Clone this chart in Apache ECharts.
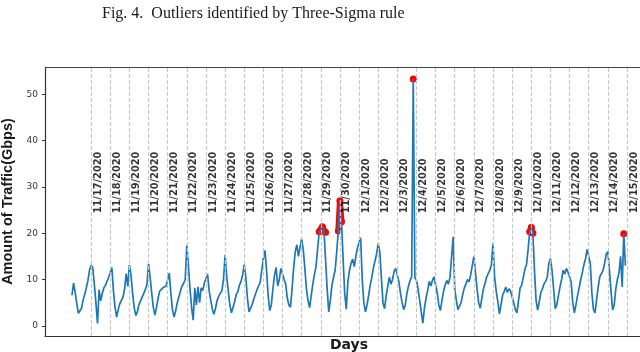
<!DOCTYPE html>
<html>
<head>
<meta charset="utf-8">
<script src="https://cdn.jsdelivr.net/npm/echarts@6/dist/echarts.min.js"></script>
<style>
  html, body { margin: 0; padding: 0; background: #fff; }
  #chart { width: 640px; height: 352px; }
</style>
</head>
<body>
<div id="chart"></div>
<script>
// day labels drawn at day 1..29 (day 0 = 11/16/2020 00:00)
var dates = ['11/17/2020', '11/18/2020', '11/19/2020', '11/20/2020', '11/21/2020', '11/22/2020',
    '11/23/2020', '11/24/2020', '11/25/2020', '11/26/2020', '11/27/2020', '11/28/2020',
    '11/29/2020', '11/30/2020', '12/1/2020', '12/2/2020', '12/3/2020', '12/4/2020',
    '12/5/2020', '12/6/2020', '12/7/2020', '12/8/2020', '12/9/2020', '12/10/2020',
    '12/11/2020', '12/12/2020', '12/13/2020', '12/14/2020', '12/15/2020'];

var stepHours = 2;   // one sample every 2 hours, starting 11/16 00:00

// traffic in Gbps, one row per day (00h, 02h, ... 22h)
var traffic = [
    6.6, 9.2, 7.2, 4.8, 2.7, 2.6, 3.8, 5.6, 6.8, 8.2, 9.8, 12.0,
    13.1, 12.6, 9.0, 5.0, 0.5, 7.8, 5.4, 7.0, 8.2, 8.8, 8.6, 10.5,
    11.5, 12.6, 7.5, 4.0, 1.9, 3.5, 4.8, 5.5, 6.2, 8.0, 11.3, 8.5,
    13.1, 11.0, 7.0, 4.0, 2.2, 3.0, 4.6, 5.4, 6.2, 7.0, 7.8, 9.0,
    13.4, 10.5, 7.0, 4.0, 2.3, 4.0, 6.0, 7.5, 7.8, 8.2, 8.0, 8.6,
    9.0, 11.4, 7.0, 3.5, 1.9, 3.2, 5.0, 6.2, 7.5, 8.6, 9.2, 10.0,
    17.4, 13.0, 8.0, 4.0, 1.2, 8.2, 4.5, 8.4, 5.0, 8.2, 7.6, 9.2,
    9.5, 11.2, 7.6, 5.5, 3.6, 2.5, 3.8, 5.5, 6.4, 7.0, 7.6, 10.0,
    15.3, 10.8, 7.5, 4.5, 2.8, 3.2, 5.2, 6.8, 7.4, 8.8, 9.6, 11.0,
    13.2, 10.5, 6.0, 3.0, 3.3, 4.6, 5.8, 6.8, 7.8, 8.6, 9.4, 12.0,
    14.5, 16.3, 12.0, 6.5, 3.3, 4.5, 8.0, 11.0, 12.6, 8.6, 10.0, 12.4,
    12.4, 10.0, 9.0, 6.0, 4.5, 4.0, 8.0, 12.5, 16.0, 17.5, 15.0, 17.0,
    18.8, 16.5, 12.5, 8.0, 5.5, 3.9, 6.5, 9.0, 11.0, 12.8, 16.5, 20.3,
    20.8, 21.4, 20.5, 20.2, 8.0, 3.0, 5.5, 8.8, 10.5, 12.0, 16.0, 20.5,
    27.0, 22.5, 14.5, 7.0, 3.6, 9.5, 12.0, 13.5, 14.4, 12.8, 15.0, 16.8,
    18.0, 19.0, 10.0, 5.0, 3.0, 4.5, 6.5, 8.8, 10.5, 12.5, 14.0, 15.5,
    17.8, 16.0, 10.5, 5.0, 3.7, 6.5, 8.5, 10.5, 9.0, 10.0, 11.8, 12.4,
    12.0, 9.5, 7.0, 5.0, 3.5, 4.5, 7.0, 8.6, 9.8, 10.6, 53.3, 10.4,
    9.8, 8.0, 5.5, 3.0, 0.6, 3.8, 6.0, 7.6, 9.6, 8.6, 9.8, 10.6,
    10.2, 7.2, 4.5, 3.3, 5.5, 7.5, 8.8, 9.8, 9.0, 10.4, 10.8, 19.2,
    8.0, 5.5, 3.5, 3.3, 5.0, 6.8, 8.2, 9.0, 10.0, 9.5, 11.0, 13.0,
    15.0, 11.5, 8.0, 5.0, 3.8, 6.0, 8.0, 9.2, 10.5, 11.3, 12.0, 13.2,
    17.8, 10.5, 7.5, 5.2, 2.6, 4.5, 6.6, 7.4, 8.4, 7.2, 8.0, 7.5,
    7.8, 5.0, 3.5, 2.8, 5.5, 8.2, 8.8, 10.5, 12.2, 13.2, 16.5, 20.3,
    21.3, 20.0, 12.0, 5.5, 3.4, 5.2, 7.2, 8.0, 9.1, 9.6, 10.5, 13.5,
    14.5, 12.0, 8.0, 3.7, 4.5, 6.5, 8.4, 10.0, 12.0, 11.2, 12.4, 11.6,
    12.0, 9.5, 5.0, 2.8, 4.5, 6.5, 8.2, 10.0, 11.5, 13.2, 14.5, 16.5,
    16.8, 13.5, 7.0, 3.5, 2.8, 5.8, 8.5, 10.6, 11.0, 12.0, 13.5, 15.5,
    16.0, 12.0, 7.5, 3.4, 4.5, 8.0, 10.0, 11.5, 15.0, 8.4, 19.9, 13.0
];

var sigmaLimit = 19.5;   // points above this are the three-sigma outliers
var yTicks = [0, 10, 20, 30, 40, 50];

window.onload = function () {

    var chartDom = document.getElementById('chart');
    var myChart = echarts.init(chartDom, null, { renderer: 'canvas' });

    var lineData = traffic.map(function (v, i) {
        return [i * stepHours / 24, v];
    });
    var outlierData = traffic.map(function (v, i) {
        return [i * stepHours / 24, v >= sigmaLimit ? v : '-'];
    });
    var labelData = dates.map(function (d, i) {
        return [i + 1, 24.3, d];
    });
    var dayLines = dates.map(function (d, i) {
        return { xAxis: i + 1 };
    });

    var option = {
        animation: false,
        title: {
            text: 'Fig. 4.  Outliers identified by Three-Sigma rule',
            left: 97,
            top: 1,
            textStyle: {
                fontFamily: 'Liberation Serif',
                fontWeight: 'normal',
                fontSize: 16,
                color: '#1a1a1a'
            }
        },
        grid: {
            left: 45, right: -13, top: 67, bottom: 16,
            containLabel: false,
            outerBoundsMode: 'none'
        },
        xAxis: {
            type: 'value',
            min: -1.41,
            max: 30.36,
            name: 'Days',
            nameLocation: 'middle',
            nameGap: 2,
            nameTextStyle: {
                fontFamily: 'DejaVu Sans',
                fontWeight: 'bold',
                fontSize: 14,
                color: '#1a1a1a',
                verticalAlign: 'top'
            },
            axisLine: { show: true, onZero: false, lineStyle: { color: '#333', width: 1.2 } },
            axisTick: { show: false },
            axisLabel: { show: false },
            splitLine: { show: false }
        },
        yAxis: {
            type: 'value',
            min: -2.2,
            max: 55.9,
            name: 'Amount of Traffic(Gbps)',
            nameLocation: 'middle',
            nameGap: 29,
            nameTextStyle: {
                fontFamily: 'Liberation Sans',
                fontWeight: 'bold',
                fontSize: 14.5,
                color: '#1a1a1a'
            },
            axisLine: { show: true, onZero: false, lineStyle: { color: '#333', width: 1.2 } },
            axisTick: { show: true, length: 3, customValues: yTicks, lineStyle: { color: '#333' } },
            axisLabel: {
                customValues: yTicks,
                fontFamily: 'DejaVu Sans',
                fontSize: 9,
                color: '#333',
                margin: 7
            },
            splitLine: { show: false }
        },
        series: [
            {
                // top frame line
                type: 'line',
                data: [],
                markLine: {
                    silent: true,
                    symbol: 'none',
                    label: { show: false },
                    lineStyle: { color: '#444', width: 1.2, type: 'solid' },
                    data: [{ yAxis: 55.9 }]
                }
            },
            {
                type: 'scatter',
                data: labelData,
                symbolSize: 0,
                silent: true,
                z: 4,
                label: {
                    show: true,
                    position: 'inside',
                    rotate: 90,
                    align: 'left',
                    verticalAlign: 'middle',
                    offset: [0, 7],
                    fontFamily: 'DejaVu Sans',
                    fontWeight: 'bold',
                    fontSize: 9.8,
                    color: '#000',
                    formatter: function (p) { return p.data[2]; }
                },
                markLine: {
                    silent: true,
                    symbol: 'none',
                    label: { show: false },
                    lineStyle: { color: '#c8c8c8', width: 1.2, type: [4, 2] },
                    data: dayLines
                }
            },
            {
                name: 'outliers',
                type: 'line',
                data: outlierData,
                connectNulls: false,
                symbol: 'circle',
                symbolSize: 7,
                showSymbol: true,
                color: '#ff0000',
                lineStyle: { color: '#ff0000', width: 6 },
                itemStyle: { color: '#ff0000' },
                z: 2
            },
            {
                name: 'traffic',
                type: 'line',
                data: lineData,
                showSymbol: false,
                symbol: 'none',
                lineStyle: { color: '#1f77b4', width: 1.7 },
                z: 3
            }
        ]
    };

    option && myChart.setOption(option);

    window.addEventListener('resize', function () {
        myChart.resize();
    });
};
</script>
</body>
</html>
